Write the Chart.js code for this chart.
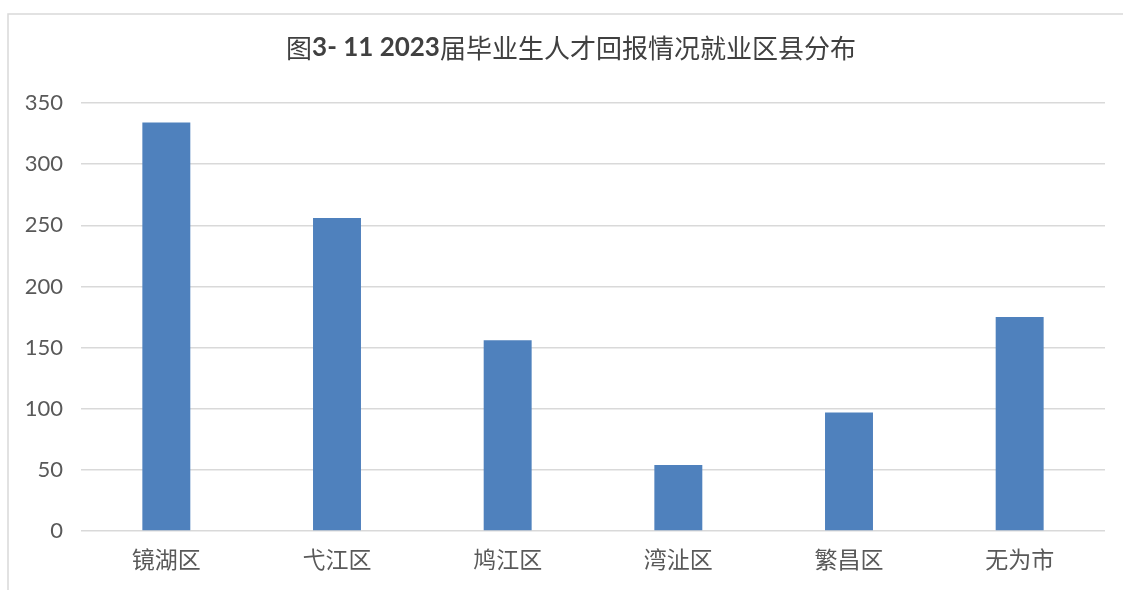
<!DOCTYPE html>
<html>
<head>
<meta charset="utf-8">
<script src="https://cdn.jsdelivr.net/npm/chart.js@4/dist/chart.umd.min.js"></script>
<style>
  html, body { margin: 0; padding: 0; background: #ffffff; }
  #wrap { position: relative; width: 1123px; height: 590px; }
  canvas { display: block; }
</style>
</head>
<body>
<div id="wrap"><canvas id="c" width="1123" height="590"></canvas></div>
<script>
const categories = ['镜湖区', '弋江区', '鸠江区', '湾沚区', '繁昌区', '无为市'];
const values = [334, 256, 156, 54, 97, 175];
const yTicks = [0, 50, 100, 150, 200, 250, 300, 350];
const titleParts = [
  { text: '图', bold: false },
  { text: '3- 11 2023', bold: true },
  { text: '届毕业生人才回报情况就业区县分布', bold: false }
];

const cjk = '"Noto Sans CJK SC", "Noto Sans", sans-serif';
const latin = 'Lato, "Noto Sans CJK SC", sans-serif';

const framePlugin = {
  id: 'frame',
  beforeDraw(chart) {
    const ctx = chart.ctx;
    ctx.save();
    ctx.strokeStyle = '#d9d9d9';
    ctx.lineWidth = 1.5;
    ctx.beginPath();
    ctx.moveTo(8, 590);
    ctx.lineTo(8, 14);
    ctx.lineTo(1123, 14);
    ctx.stroke();
    ctx.restore();
  }
};

const titlePlugin = {
  id: 'mixedTitle',
  afterDraw(chart) {
    const ctx = chart.ctx;
    ctx.save();
    ctx.fillStyle = '#404040';
    ctx.textBaseline = 'middle';
    ctx.textAlign = 'left';
    const fonts = titleParts.map(p => p.bold ? 'bold 26px ' + latin : 'normal 26px ' + cjk);
    let total = 0;
    const widths = titleParts.map((p, i) => { ctx.font = fonts[i]; const w = ctx.measureText(p.text).width; total += w; return w; });
    let x = 571 - total / 2;
    titleParts.forEach((p, i) => {
      ctx.font = fonts[i];
      ctx.fillText(p.text, x, 48);
      x += widths[i];
    });
    ctx.restore();
  }
};

new Chart(document.getElementById('c'), {
  type: 'bar',
  data: {
    labels: categories,
    datasets: [{
      data: values,
      backgroundColor: '#4f81bd',
      borderWidth: 0,
      categoryPercentage: 1,
      barPercentage: 0.281
    }]
  },
  options: {
    responsive: false,
    animation: false,
    layout: { padding: { left: 0, right: 18, top: 103, bottom: 0 } },
    plugins: {
      legend: { display: false },
      title: { display: false },
      tooltip: { enabled: false }
    },
    scales: {
      x: {
        grid: { display: false, drawTicks: false },
        border: { display: false },
        ticks: {
          color: '#595959',
          padding: 14,
          font: { family: cjk, size: 23 }
        },
        afterFit(s) { s.height = 59; }
      },
      y: {
        min: 0,
        max: 350,
        afterBuildTicks(s) { s.ticks = yTicks.map(v => ({ value: v })); },
        grid: { color: '#d9d9d9', lineWidth: 1.5, drawTicks: false },
        border: { display: false },
        ticks: {
          color: '#595959',
          padding: 18,
          font: { family: latin, size: 22 }
        },
        afterFit(s) { s.width = 81; }
      }
    }
  },
  plugins: [framePlugin, titlePlugin]
});
</script>
</body>
</html>
